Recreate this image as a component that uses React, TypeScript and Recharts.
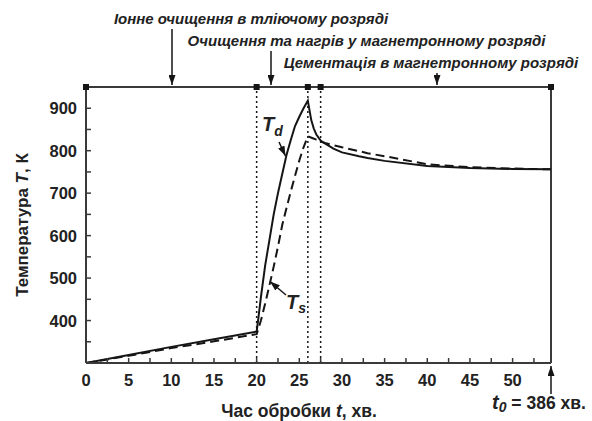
import React from 'react';
import { ComposedChart, Line, XAxis, YAxis, ReferenceLine, ReferenceDot } from 'recharts';

// Time, min
const tdTime = [0, 5, 10, 15, 20, 20.2, 20.5, 21, 21.5, 22, 22.5, 23, 23.5, 24, 24.5, 25, 25.5, 26, 26.2, 26.4, 26.7, 27, 27.5, 28, 29, 30, 32, 33, 35, 40, 45, 50, 54.5];
// Detail temperature Td, K
const tdTemp = [300, 319, 338, 356, 374, 405, 455, 530, 590, 650, 700, 745, 790, 825, 858, 880, 900, 918, 895, 872, 852, 838, 824, 817, 805, 796, 787, 783, 776, 764, 759, 757, 756];

const tsTime = [0, 5, 10, 15, 20, 20.5, 21, 21.5, 22, 22.5, 23, 23.5, 24, 24.5, 25, 25.5, 26, 26.5, 27, 27.6, 28, 29, 30, 32, 33, 35, 40, 45, 50, 54.5];
// Surface temperature Ts, K
const tsTemp = [300, 317, 335, 351, 368, 400, 440, 483, 527, 574, 625, 665, 704, 741, 777, 808, 834, 830, 826, 821, 818, 813, 808, 799, 794, 787, 768, 761, 758, 756];

const xTicks = [0, 2.5, 5, 7.5, 10, 12.5, 15, 17.5, 20, 22.5, 25, 27.5, 30, 32.5, 35, 37.5, 40, 42.5, 45, 47.5, 50, 52.5];
const yTicks = [350, 400, 450, 500, 550, 600, 650, 700, 750, 800, 850, 900];
const stageBounds = [0, 20, 26, 27.5, 54.5];
const phaseLines = [20, 26, 27.5];
const xDomain = [0, 54.5];
const yDomain = [300, 950];

const tdData = tdTime.map((t, i) => ({ t, td: tdTemp[i] }));
const tsData = tsTime.map((t, i) => ({ t, ts: tsTemp[i] }));

const FONT = '"Liberation Sans", Arial, sans-serif';
const AX = '#3a3a3a';
const INK = '#151515';

const XTick = (p: any) => {
  const v = p.payload.value;
  return (
    <g>
      <line x1={p.x} x2={p.x} y1={p.y} y2={p.y - 5} stroke={AX} strokeWidth={1.5} />
      {v % 5 === 0 && (
        <text x={p.x} y={p.y + 23} textAnchor="middle" fontSize={16.5} fontWeight="bold" fill="#222" fontFamily={FONT}>
          {v}
        </text>
      )}
    </g>
  );
};

const YTick = (p: any) => {
  const v = p.payload.value;
  return (
    <g>
      <line x1={p.x} x2={p.x + 5} y1={p.y} y2={p.y} stroke={AX} strokeWidth={1.5} />
      {v % 100 === 0 && (
        <text x={p.x - 9} y={p.y + 6} textAnchor="end" fontSize={16.5} fontWeight="bold" fill="#222" fontFamily={FONT}>
          {v}
        </text>
      )}
    </g>
  );
};

const Square = (p: any) => <rect x={p.cx - 3} y={p.cy - 3} width={6} height={6} fill={INK} />;

export default function App() {
  return (
    <div style={{ position: 'absolute', left: 0, top: 0, width: 592, height: 421, background: '#fff' }}>
      <ComposedChart width={592} height={421} margin={{ top: 87, right: 41, bottom: 0, left: 0 }}>
        <XAxis
          dataKey="t"
          type="number"
          domain={xDomain}
          ticks={xTicks}
          interval={0}
          allowDataOverflow
          height={58}
          tickSize={0}
          tickMargin={0}
          tickLine={false}
          axisLine={{ stroke: AX, strokeWidth: 2 }}
          tick={XTick}
        />
        <YAxis
          type="number"
          domain={yDomain}
          ticks={yTicks}
          interval={0}
          allowDataOverflow
          width={86}
          tickSize={0}
          tickMargin={0}
          tickLine={false}
          axisLine={{ stroke: AX, strokeWidth: 2 }}
          tick={YTick}
        />
        {phaseLines.map((x) => (
          <ReferenceLine key={'p' + x} x={x} stroke={INK} strokeWidth={1.5} strokeDasharray="2 3" ifOverflow="visible" />
        ))}
        <ReferenceLine y={950} stroke={AX} strokeWidth={2} ifOverflow="visible" />
        <ReferenceLine x={54.5} stroke={AX} strokeWidth={2} ifOverflow="visible" />
        <Line data={tsData} dataKey="ts" type="linear" stroke={INK} strokeWidth={2} strokeDasharray="9 5" dot={false} isAnimationActive={false} />
        <Line data={tdData} dataKey="td" type="linear" stroke={INK} strokeWidth={2} dot={false} isAnimationActive={false} />
        {stageBounds.map((x) => (
          <ReferenceDot key={'s' + x} x={x} y={950} r={3} shape={Square} ifOverflow="visible" />
        ))}
      </ComposedChart>
      <svg width={592} height={421} style={{ position: 'absolute', left: 0, top: 0, pointerEvents: 'none' }}>
        <defs>
          <marker id="ah" viewBox="0 0 10 10" refX="10" refY="5" markerWidth="10" markerHeight="7" orient="auto" markerUnits="userSpaceOnUse" preserveAspectRatio="none">
            <path d="M0,0 L10,5 L0,10 z" fill={INK} />
          </marker>
        </defs>
        <g fontFamily={FONT} fontWeight="bold" fontStyle="italic" fontSize={15} fill="#222">
          <text x={251} y={23.5} textAnchor="middle">Іонне очищення в тліючому розряді</text>
          <text x={366.5} y={45.5} textAnchor="middle">Очищення та нагрів у магнетронному розряді</text>
          <text x={431} y={67.5} textAnchor="middle">Цементація в магнетронному розряді</text>
        </g>
        <line x1={172} y1={29} x2={172} y2={85} stroke={INK} strokeWidth={1.5} markerEnd="url(#ah)" />
        <line x1={271} y1={51} x2={271} y2={85} stroke={INK} strokeWidth={1.5} markerEnd="url(#ah)" />
        <line x1={437} y1={73} x2={437} y2={85} stroke={INK} strokeWidth={1.5} markerEnd="url(#ah)" />

        <text x={262} y={131} fontFamily={FONT} fontWeight="bold" fontStyle="italic" fontSize={20} fill="#222">
          T<tspan fontSize={14} dy={5}>d</tspan>
        </text>
        <line x1={279} y1={142} x2={285.5} y2={156} stroke={INK} strokeWidth={1.5} markerEnd="url(#ah)" />
        <text x={286} y={309} fontFamily={FONT} fontWeight="bold" fontStyle="italic" fontSize={20} fill="#222">
          T<tspan fontSize={14} dy={4}>s</tspan>
        </text>
        <line x1={286} y1={295} x2={270} y2={281.5} stroke={INK} strokeWidth={1.5} markerEnd="url(#ah)" />

        <text transform="translate(28,225) rotate(-90)" textAnchor="middle" fontFamily={FONT} fontWeight="bold" fontSize={17} fill="#222">
          Температура <tspan fontStyle="italic">T</tspan>, К
        </text>
        <text x={299} y={417} textAnchor="middle" fontFamily={FONT} fontWeight="bold" fontSize={17.5} fill="#222">
          Час обробки <tspan fontStyle="italic">t</tspan>, хв.
        </text>
        <line x1={551} y1={394} x2={551} y2={366} stroke={INK} strokeWidth={1.5} markerEnd="url(#ah)" />
        <text x={492} y={409} fontFamily={FONT} fontWeight="bold" fontSize={17.5} fill="#222">
          <tspan fontStyle="italic" fontSize={20}>t</tspan>
          <tspan fontStyle="italic" fontSize={14} dy={3}>0</tspan>
          <tspan dy={-3}> = 386 хв.</tspan>
        </text>
      </svg>
    </div>
  );
}
